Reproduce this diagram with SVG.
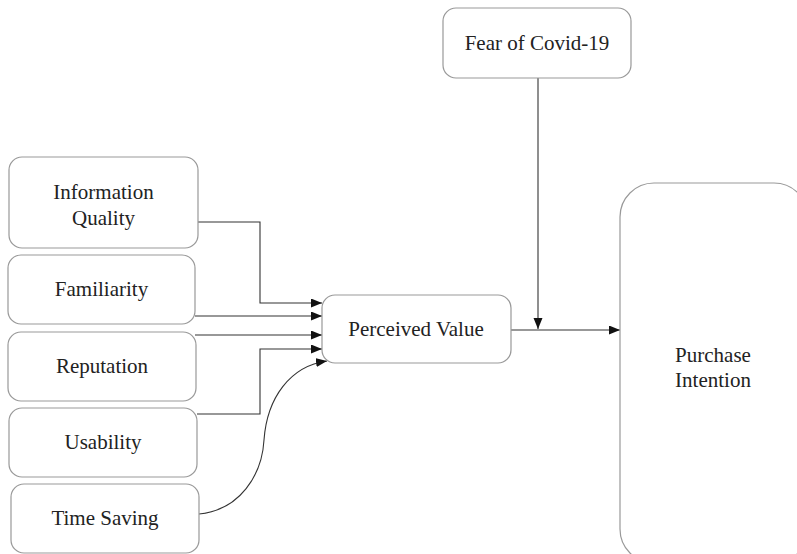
<svg xmlns="http://www.w3.org/2000/svg" width="797" height="554" viewBox="0 0 797 554">
<style>
.box{fill:#fff;stroke:#999;stroke-width:1.2}
.lbl{font-family:"Liberation Serif","Times New Roman",serif;font-size:21px;fill:#222;text-anchor:middle}
.con{fill:none;stroke:#333;stroke-width:1.1}
</style>
<defs>
<marker id="ah" markerUnits="userSpaceOnUse" markerWidth="12" markerHeight="10" refX="11" refY="4.5" orient="auto">
<path d="M0,0 L11,4.5 L0,9 z" fill="#111"/>
</marker>
</defs>
<rect width="797" height="554" fill="#fff"/>
<g id="connectors">
<path class="con" d="M198,222 H260 V303 H322" marker-end="url(#ah)"/>
<path class="con" d="M195,316 H322" marker-end="url(#ah)"/>
<path class="con" d="M195,335 H322" marker-end="url(#ah)"/>
<path class="con" d="M197,414 H260 V349 H322" marker-end="url(#ah)"/>
<path class="con" d="M199,514 C240,510 262,475 264,440 C267,398 290,366 327,361" marker-end="url(#ah)"/>
<path class="con" d="M538,78 V329" marker-end="url(#ah)"/>
<path class="con" d="M511,330 H620" marker-end="url(#ah)"/>
</g>
<g id="information-quality">
<rect class="box" x="9" y="157" width="189" height="91" rx="13"/>
<text class="lbl" x="103.5" y="199">Information</text>
<text class="lbl" x="103.5" y="225">Quality</text>
</g>
<g id="familiarity">
<rect class="box" x="8" y="255" width="187" height="69" rx="13"/>
<text class="lbl" x="101.5" y="296">Familiarity</text>
</g>
<g id="reputation">
<rect class="box" x="8" y="332" width="188" height="69" rx="13"/>
<text class="lbl" x="102" y="373">Reputation</text>
</g>
<g id="usability">
<rect class="box" x="9" y="408" width="188" height="69" rx="13"/>
<text class="lbl" x="103" y="449">Usability</text>
</g>
<g id="time-saving">
<rect class="box" x="11" y="484" width="188" height="69" rx="13"/>
<text class="lbl" x="105" y="525">Time Saving</text>
</g>
<g id="fear-of-covid">
<rect class="box" x="443" y="8" width="188" height="70" rx="13"/>
<text class="lbl" x="537" y="50">Fear of Covid-19</text>
</g>
<g id="perceived-value">
<rect class="box" x="322" y="295" width="189" height="68" rx="13"/>
<text class="lbl" x="416" y="336">Perceived Value</text>
</g>
<g id="purchase-intention">
<rect class="box" x="620" y="183" width="188" height="380" rx="34"/>
<text class="lbl" x="713" y="362">Purchase</text>
<text class="lbl" x="713" y="387">Intention</text>
</g>
</svg>
